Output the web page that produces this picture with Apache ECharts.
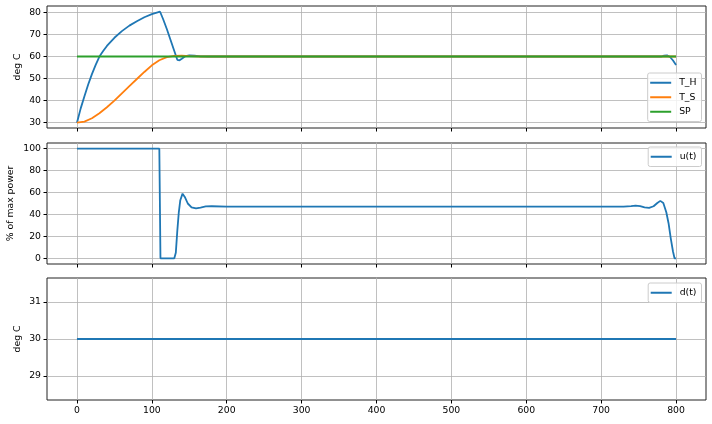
<!DOCTYPE html>
<html>
<head>
<meta charset="utf-8">
<script src="https://cdn.jsdelivr.net/npm/echarts@6/dist/echarts.min.js"></script>
<style>
  html, body { margin: 0; padding: 0; background: #fff; }
  #chart { width: 712px; height: 424px; }
</style>
</head>
<body>
<div id="chart"></div>
<script>
// time (s) and values
const thTime = [0, 5, 10, 15, 20, 25, 30, 35, 40, 50, 60, 70, 80, 90, 100, 111,
  115, 120, 125, 130, 134, 137, 140, 145, 150, 157, 165, 175, 780, 784, 788, 792, 796, 800];
const thVals = [30, 36.5, 42, 47.3, 52, 56.2, 60, 62.5, 64.8, 68.5, 71.5, 74, 76, 77.8, 79.2, 80.3,
  77, 72.5, 67.5, 62.5, 58.5, 58.3, 59, 60.2, 60.5, 60.4, 60.1, 60, 60, 60.4, 60.5, 59.8, 58.2, 56.2];

const tsTime = [0, 10, 20, 30, 40, 50, 60, 70, 80, 90, 100, 110, 120, 130, 140, 150, 165, 800];
const tsVals = [30, 30.5, 32, 34.3, 37, 40, 43.3, 46.6, 49.8, 53, 56, 58.3, 59.7, 60.3, 60.4, 60.2, 60, 60];

const spTime = [0, 800];
const spVals = [60, 60];

const uTime = [0, 110, 111.5, 130, 132, 134, 136, 138, 141, 144, 148, 153, 159, 165, 172, 180, 200,
  600, 730, 740, 746, 752, 758, 764, 770, 775, 779, 783, 787, 790, 793, 796, 798, 800];
const uVals = [100, 100, 0, 0, 5, 25, 42, 53, 59, 56, 50, 46.5, 45.5, 46.3, 47.3, 47.5, 47.2,
  47.2, 47.2, 47.6, 48, 47.6, 46.5, 46, 47.5, 50.5, 52.4, 50.5, 42, 32, 18, 6, 0, 0];

const dTime = [0, 800];
const dVals = [30, 30];

const xTicks = [0, 100, 200, 300, 400, 500, 600, 700, 800];
const y1Ticks = [30, 40, 50, 60, 70, 80];
const y2Ticks = [0, 20, 40, 60, 80, 100];
const y3Ticks = [29, 30, 31];

const BLUE = "#1f77b4", ORANGE = "#ff7f0e", GREEN = "#2ca02c";
const FONT = "DejaVu Sans";
const FS = 9.3;

function pairs(ts, vs) {
  return ts.map(function(t, i) { return [t, vs[i]]; });
}

function makeX(idx, showLabels) {
  return {
    type: "value", gridIndex: idx, min: -40, max: 840, position: "bottom",
    axisLine: { show: false, onZero: false },
    axisTick: { show: true, inside: false, length: 3.5, customValues: xTicks, lineStyle: { color: "#000", width: 1 } },
    axisLabel: { show: showLabels, customValues: xTicks, margin: 6, fontSize: FS, fontFamily: FONT, color: "#000" },
    splitLine: { show: true, lineStyle: { color: "#b0b0b0", width: 0.8 } }
  };
}

function makeY(idx, min, max, ticks, name, gap) {
  return {
    type: "value", gridIndex: idx, min: min, max: max, position: "left",
    name: name, nameLocation: "middle", nameGap: gap, nameMoveOverlap: false,
    nameTextStyle: { fontSize: FS, fontFamily: FONT, color: "#000" },
    axisLine: { show: false, onZero: false },
    axisTick: { show: true, inside: false, length: 3.5, customValues: ticks, lineStyle: { color: "#000", width: 1 } },
    axisLabel: { customValues: ticks, margin: 6, fontSize: FS, fontFamily: FONT, color: "#000" },
    splitLine: { show: true, lineStyle: { color: "#b0b0b0", width: 0.8 } }
  };
}

function makeLegend(names, top) {
  return {
    data: names, orient: "vertical", right: 10.5, top: top,
    icon: "rect", itemWidth: 21, itemHeight: 2, itemGap: 3,
    padding: [4, 5, 4, 2.5],
    backgroundColor: "rgba(255,255,255,0.8)",
    borderColor: "#cccccc", borderWidth: 1, borderRadius: 2,
    textStyle: { fontSize: FS, fontFamily: FONT, color: "#000", lineHeight: 11.5, padding: [0, 0, 0, 3] }
  };
}

function line(name, data, color, xi) {
  return {
    name: name, type: "line", data: data, xAxisIndex: xi, yAxisIndex: xi,
    showSymbol: false, symbol: "none", color: color,
    lineStyle: { color: color, width: 1.8 }
  };
}

const gridBase = {
  left: 47, right: 6, show: true, borderColor: "#222", borderWidth: 1,
  backgroundColor: "transparent", containLabel: false, outerBoundsMode: "none"
};

const option = {
  animation: false,
  backgroundColor: "#fff",
  grid: [
    Object.assign({ top: 6, height: 122 }, gridBase),
    Object.assign({ top: 143, height: 121 }, gridBase),
    Object.assign({ top: 278, height: 122 }, gridBase)
  ],
  xAxis: [makeX(0, false), makeX(1, false), makeX(2, true)],
  yAxis: [
    makeY(0, 27.6, 82.9, y1Ticks, "deg C", 25),
    makeY(1, -5.2, 105.2, y2Ticks, "% of max power", 32),
    makeY(2, 28.35, 31.65, y3Ticks, "deg C", 24.5)
  ],
  legend: [
    makeLegend(["T_H", "T_S", "SP"], 73),
    makeLegend(["u(t)"], 147),
    makeLegend(["d(t)"], 283)
  ],
  series: [
    line("T_H", pairs(thTime, thVals), BLUE, 0),
    line("T_S", pairs(tsTime, tsVals), ORANGE, 0),
    line("SP", pairs(spTime, spVals), GREEN, 0),
    line("u(t)", pairs(uTime, uVals), BLUE, 1),
    line("d(t)", pairs(dTime, dVals), BLUE, 2)
  ]
};

const chart = echarts.init(document.getElementById("chart"));
chart.setOption(option);
</script>
</body>
</html>
